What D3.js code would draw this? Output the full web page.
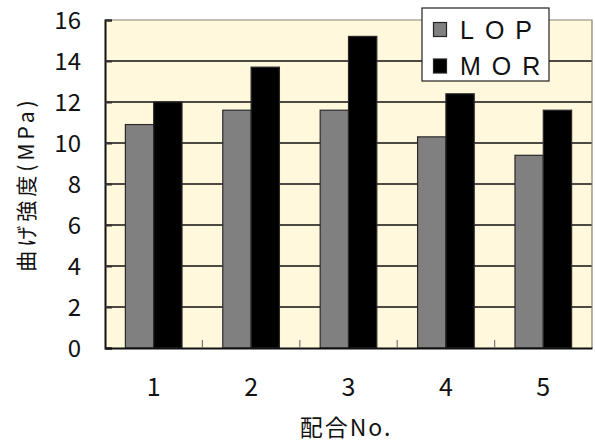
<!DOCTYPE html>
<html>
<head>
<meta charset="utf-8">
<script src="https://cdn.jsdelivr.net/npm/d3@7"></script>
<style>
  html, body { margin: 0; padding: 0; background: #ffffff; }
  svg { display: block; }
</style>
</head>
<body>
<svg id="chart" width="595" height="443"></svg>
<script>
// Mix numbers (配合No.) and bending strengths in MPa
const categories = ["1", "2", "3", "4", "5"];
const seriesNames = ["LOP", "MOR"];
const lopValues = [10.9, 11.6, 11.6, 10.3, 9.4];
const morValues = [12.0, 13.7, 15.2, 12.4, 11.6];
const yTicks = [0, 2, 4, 6, 8, 10, 12, 14, 16];
const seriesColors = ["#808080", "#000000"];

const svg = d3.select("#chart");
const plot = { left: 105, top: 20, right: 592, bottom: 348 };

const x0 = d3.scaleBand().domain(categories).range([plot.left, plot.right]).padding(0);
const x1 = d3.scaleBand().domain(seriesNames).range([0, x0.bandwidth()])
  .paddingInner(0).paddingOuter(0.72);
const y = d3.scaleLinear().domain([0, 16]).range([plot.bottom, plot.top]);

const rows = categories.map((c, i) => ({ cat: c, values: [lopValues[i], morValues[i]] }));

// plot background
svg.append("rect")
  .attr("x", plot.left).attr("y", plot.top)
  .attr("width", plot.right - plot.left).attr("height", plot.bottom - plot.top)
  .attr("fill", "#fff8dc");

// horizontal gridlines
svg.append("g").selectAll("line")
  .data(yTicks.filter(t => t > 0 && t < 16))
  .join("line")
  .attr("x1", plot.left).attr("x2", plot.right)
  .attr("y1", d => y(d)).attr("y2", d => y(d))
  .attr("stroke", "#111").attr("stroke-width", 1.3);

// top / right frame
svg.append("path")
  .attr("d", `M${plot.left},${plot.top}H${plot.right}V${plot.bottom}`)
  .attr("fill", "none").attr("stroke", "#8a8070").attr("stroke-width", 1.2);

// bars
const groups = svg.append("g").selectAll("g")
  .data(rows).join("g")
  .attr("transform", d => `translate(${x0(d.cat)},0)`);
groups.selectAll("rect")
  .data(d => d.values.map((v, k) => ({ key: seriesNames[k], value: v, k })))
  .join("rect")
  .attr("x", d => x1(d.key))
  .attr("y", d => y(d.value))
  .attr("width", x1.bandwidth())
  .attr("height", d => y(0) - y(d.value))
  .attr("fill", d => seriesColors[d.k])
  .attr("stroke", "#2a2a2a").attr("stroke-width", 1.2);

// y axis
const yAxis = svg.append("g")
  .attr("transform", `translate(${plot.left},0)`)
  .call(d3.axisLeft(y).tickValues(yTicks).tickSize(-7).tickPadding(24).tickFormat(d3.format("d")));
yAxis.select(".domain").attr("stroke", "#111").attr("stroke-width", 2);
yAxis.selectAll(".tick line").attr("stroke", "#333").attr("stroke-width", 2);
yAxis.selectAll("text")
  .attr("font-family", "'Noto Sans CJK JP', sans-serif")
  .attr("font-size", 24).attr("fill", "#111").attr("dy", "0.36em");

// x axis
const xAxis = svg.append("g")
  .attr("transform", `translate(0,${plot.bottom})`)
  .call(d3.axisBottom(x0).tickSize(0).tickPadding(0));
xAxis.select(".domain").attr("stroke", "#111").attr("stroke-width", 2);
xAxis.selectAll("text")
  .attr("font-family", "'Noto Sans CJK JP', sans-serif")
  .attr("font-size", 25).attr("fill", "#111")
  .attr("y", 48).attr("dy", 0);

// small inward ticks between categories
svg.append("g").selectAll("line")
  .data(categories.slice(1))
  .join("line")
  .attr("x1", d => x0(d)).attr("x2", d => x0(d))
  .attr("y1", plot.bottom).attr("y2", plot.bottom - 8)
  .attr("stroke", "#777").attr("stroke-width", 1.2);

// axis titles
svg.append("text")
  .attr("transform", `translate(34,${(plot.top + plot.bottom) / 2}) rotate(-90)`)
  .attr("text-anchor", "middle")
  .attr("font-family", "'Noto Sans CJK JP', sans-serif")
  .attr("font-size", 21).attr("letter-spacing", 4).attr("fill", "#111")
  .text("曲げ強度(MPa)");

svg.append("text")
  .attr("x", 346).attr("y", 436)
  .attr("text-anchor", "middle")
  .attr("font-family", "'Noto Sans CJK JP', sans-serif")
  .attr("font-size", 23).attr("letter-spacing", 2).attr("fill", "#111")
  .text("配合No.");

// legend
const legend = svg.append("g");
legend.append("rect")
  .attr("x", 422).attr("y", 8).attr("width", 127).attr("height", 73)
  .attr("fill", "#ffffff").attr("stroke", "#222").attr("stroke-width", 1.2);
const legendRows = legend.selectAll("g.item")
  .data(seriesNames).join("g").attr("class", "item")
  .attr("transform", (d, i) => `translate(433.5,${22.5 + i * 36.5})`);
legendRows.append("rect")
  .attr("width", 13).attr("height", 14)
  .attr("fill", (d, i) => seriesColors[i])
  .attr("stroke", "#222").attr("stroke-width", 1.2);
legendRows.append("text")
  .attr("x", 26.5).attr("y", 16)
  .attr("font-family", "'Liberation Sans', Arial, sans-serif")
  .attr("font-size", 25).attr("letter-spacing", 11).attr("fill", "#111")
  .text(d => d);
</script>
</body>
</html>
